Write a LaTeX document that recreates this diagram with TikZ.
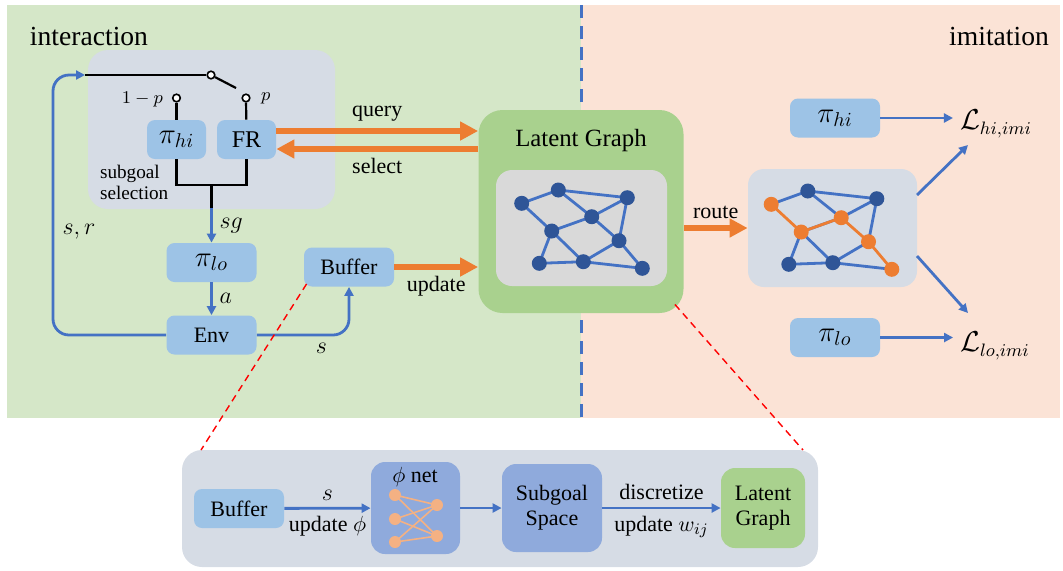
\documentclass[tikz,border=0pt]{standalone}
\usepackage{fontspec}
\setmainfont{Liberation Serif}
\usetikzlibrary{positioning,arrows.meta,calc}

\definecolor{intgreen}{RGB}{213,231,200}
\definecolor{imipeach}{RGB}{251,227,214}
\definecolor{panelgray}{RGB}{214,220,229}
\definecolor{boxblue}{RGB}{157,195,230}
\definecolor{netblue}{RGB}{143,170,220}
\definecolor{lggreen}{RGB}{169,209,142}
\definecolor{graphgray}{RGB}{217,217,217}
\definecolor{arrorange}{RGB}{237,125,49}
\definecolor{lineblue}{RGB}{68,114,196}
\definecolor{nodeblue}{RGB}{47,85,151}
\definecolor{salmon}{RGB}{244,177,131}

\begin{document}
\begin{tikzpicture}[
    x=0.5pt, y=-0.5pt,
    lbl/.style={font=\fontsize{11}{13}\selectfont},
    mlbl/.style={font=\fontsize{13}{15}\selectfont},
    box/.style={fill=boxblue, rounded corners=4pt, minimum width=45pt, minimum height=19.5pt,
                inner sep=0pt, align=center, font=\fontsize{11}{13}\selectfont},
    pibox/.style={box, font=\fontsize{14}{16}\selectfont},
    netbox/.style={box, fill=netblue, rounded corners=7pt},
    greenbox/.style={box, fill=lggreen, rounded corners=7pt},
    panel/.style={fill=panelgray, rounded corners=10pt, inner sep=0pt},
    swc/.style={circle, draw, fill=white, line width=0.8pt, inner sep=0pt, minimum size=3.8pt},
    wire/.style={draw=black, line width=1.1pt},
    gnode/.style={circle, fill=nodeblue, inner sep=0pt, minimum size=7.5pt},
    onode/.style={gnode, fill=arrorange},
    gedge/.style={draw=lineblue, line width=1.4pt},
    oedge/.style={draw=arrorange, line width=1.4pt},
    nnode/.style={circle, fill=salmon, inner sep=0pt, minimum size=6pt},
    nedge/.style={draw=salmon, line width=0.8pt},
    barr/.style={draw=lineblue, line width=1.4pt, -{Triangle[length=4.5pt,width=4.5pt]}},
    oarr/.style={draw=arrorange, line width=3pt, -{Triangle[length=9pt,width=9pt]}},
    reddash/.style={draw=red, line width=0.7pt, dash pattern=on 3.5pt off 2.5pt},
  ]
  \useasboundingbox (0,0) rectangle (1063,570);
  % two halves
  \fill[intgreen] (7,5) rectangle (581,418);
  \fill[imipeach] (581,5) rectangle (1060,418);
  \draw[lineblue, line width=1.5pt, dash pattern=on 6.5pt off 4pt] (581,5) -- (581,418);
  \node[font=\fontsize{13.8}{16}\selectfont] (inttitle) at (89,36) {interaction};
  \node[font=\fontsize{13.8}{16}\selectfont] (imititle) at (999,36) {imitation};

  % subgoal selection
  \node[panel, minimum width=123.5pt, minimum height=79.5pt] (selpanel) at (211.5,129.5) {};
  \node[pibox, minimum width=29.5pt] (pihi) at (176.5,139.5) {$\pi_{hi}$};
  \node[box, minimum width=29.5pt, font=\fontsize{12}{14}\selectfont] (fr) at (246.5,139.5) {FR};
  \node[swc] (c1)  at (176.5,98) {};
  \node[swc] (c2)  at (246,98) {};
  \node[swc] (piv) at (211,75) {};
  \node[anchor=east, font=\fontsize{9.5}{11}\selectfont] (onemp) at (170,99) {$1-p$};
  \node[anchor=west, font=\fontsize{9.5}{11}\selectfont] (plbl)  at (254,98) {$p$};
  \node[anchor=west, align=left, font=\fontsize{9.6}{10.5}\selectfont] (selnote) at (93,182) {subgoal\\selection};
  \coordinate (swin)  at (85,75);
  \coordinate (swtip) at (236,88);
  \coordinate (fork)  at (211.5,185);
  \coordinate (forkend) at (211.5,208);
  \draw[wire] (swin) -- (piv);
  \draw[wire] (piv) -- (swtip);
  \draw[wire] (c1) -- (pihi);
  \draw[wire] (c2) -- (fr);
  \draw[wire] (pihi.south) |- (fork) -| (fr.south);
  \draw[wire] (fork) -- (forkend);

  % low level loop
  \node[pibox] (pilo) at (211.5,262.5) {$\pi_{lo}$};
  \node[box]   (env)  at (211.5,335) {Env};
  \node[box]   (buf)  at (349,267) {Buffer};
  \coordinate (loopc) at (53,75);
  \draw[barr] (forkend) -- (pilo.north) node[midway, right, mlbl] {$sg$};
  \draw[barr] (pilo) -- (env) node[midway, right, mlbl] {$a$};
  \draw[barr, rounded corners=8pt] (env.west) -| (loopc) -- (swin);
  \node[mlbl] (srlbl) at (79,232) {$s,r$};
  \draw[barr, rounded corners=8pt] (env.east) -| node[pos=0.35, below, mlbl] {$s$} (buf.south);

  % latent graph
  \node[fill=lggreen, rounded corners=12pt, minimum width=102.5pt, minimum height=101.5pt] (lg) at (581,211.5) {};
  \node[font=\fontsize{12.4}{14}\selectfont] (lgtitle) at (581,141) {Latent Graph};
  \node[fill=graphgray, rounded corners=8pt, minimum width=85.5pt, minimum height=58pt] (lginner) at (581.5,228) {};
  \foreach \n/\px/\py in {1/521.7/203.3, 2/558.3/190, 3/627.3/197.7, 4/591.7/216.7, 5/551.7/231,
                          6/619/240.7, 7/539.3/263.3, 8/583.3/261.7, 9/642.3/268.3} {
    \coordinate (g\n) at (\px,\py);
    \coordinate (r\n) at (\px+249.5,\py+1);
  }
  \foreach \a/\b in {1/2, 2/3, 1/5, 2/4, 4/3, 4/5, 3/6, 4/6, 5/7, 5/8, 7/8, 8/6, 8/9, 6/9}
    \draw[gedge] (g\a) -- (g\b);
  \foreach \n in {1,...,9}
    \node[gnode] (gn\n) at (g\n) {};

  % query / select / update
  \coordinate (qs) at ([yshift=4.25pt]fr.east);
  \coordinate (ss) at ([yshift=-4.75pt]fr.east);
  \draw[oarr] (qs) -- (qs -| lg.west) node[midway, above, lbl] {query};
  \draw[oarr] (ss -| lg.west) -- (ss) node[midway, below, lbl] {select};
  \draw[oarr] (buf.east) -- (buf.east -| lg.west) node[midway, below, lbl] {update};

  % imitation side
  \node[panel, minimum width=84.5pt, minimum height=59pt, rounded corners=8pt] (rg) at (832.5,228) {};
  \foreach \a/\b in {1/2, 2/3, 2/4, 4/3, 4/5, 3/6, 5/7, 5/8, 7/8, 8/6, 8/9}
    \draw[gedge] (r\a) -- (r\b);
  \foreach \a/\b in {1/5, 5/4, 4/6, 6/9}
    \draw[oedge] (r\a) -- (r\b);
  \foreach \n in {2,3,7,8}
    \node[gnode] (rn\n) at (r\n) {};
  \foreach \n in {1,4,5,6,9}
    \node[onode] (rn\n) at (r\n) {};
  \draw[oarr] (rg.west -| lg.east) -- (rg.west) node[midway, above, lbl] {route};

  \node[pibox] (pihir) at (835,118) {$\pi_{hi}$};
  \node[pibox] (pilor) at (835,337.5) {$\pi_{lo}$};
  \node[font=\fontsize{13.5}{15}\selectfont] (lhi) at (996,124) {$\mathcal{L}_{hi,imi}$};
  \node[font=\fontsize{13.5}{15}\selectfont] (llo) at (995,346) {$\mathcal{L}_{lo,imi}$};
  \draw[barr] (pihir.east) -- (pihir.east -| lhi.west);
  \draw[barr] (pilor.east) -- (pilor.east -| llo.west);
  \coordinate (rgup)  at (917,195);
  \coordinate (rgdn)  at (917,256);
  \coordinate (lhiin) at (968,145);
  \coordinate (lloin) at (968,313);
  \draw[barr] (rgup) -- (lhiin);
  \draw[barr] (rgdn) -- (lloin);

  % detail of the graph learning
  \node[panel, minimum width=318pt, minimum height=58.5pt] (detail) at (500,508.5) {};
  \node[box] (buf2) at (239,508.5) {Buffer};
  \node[netbox, minimum width=44.5pt, minimum height=46pt] (phinet) at (415.5,508) {};
  \node[lbl] (philbl) at (415,477) {$\phi$ net};
  \foreach \n/\py in {1/495, 2/519, 3/542}
    \coordinate (nl\n) at (395,\py);
  \foreach \n/\py in {1/505, 2/536}
    \coordinate (nr\n) at (437,\py);
  \foreach \a in {1,2,3}
    \foreach \b in {1,2}
      \draw[nedge] (nl\a) -- (nr\b);
  \foreach \n in {1,2,3}
    \node[nnode] (nln\n) at (nl\n) {};
  \foreach \n in {1,2}
    \node[nnode] (nrn\n) at (nr\n) {};
  \node[netbox, minimum width=50pt, minimum height=44pt, font=\fontsize{11}{12.5}\selectfont] (subsp) at (552,508) {Subgoal\\Space};
  \node[greenbox, minimum width=42pt, minimum height=40pt, font=\fontsize{11}{12.5}\selectfont] (lg2) at (763,508) {Latent\\Graph};
  \draw[barr] (buf2) -- (phinet) node[midway, above, mlbl] {$s$} node[midway, below, lbl] {update $\phi$};
  \draw[barr] (phinet) -- (subsp);
  \draw[barr] (subsp) -- (lg2) node[midway, above, lbl] {discretize} node[midway, below, lbl] {update $w_{ij}$};

  % zoom lines
  \coordinate (dl) at (201,450);
  \coordinate (dr) at (803,450);
  \coordinate (lgcorner) at ($(lg.south east)+(-9,-9)$);
  \coordinate (bufcorner) at ($(buf.south west)+(3,-3)$);
  \draw[reddash] (bufcorner) -- (dl);
  \draw[reddash] (lgcorner) -- (dr);
\end{tikzpicture}
\end{document}
